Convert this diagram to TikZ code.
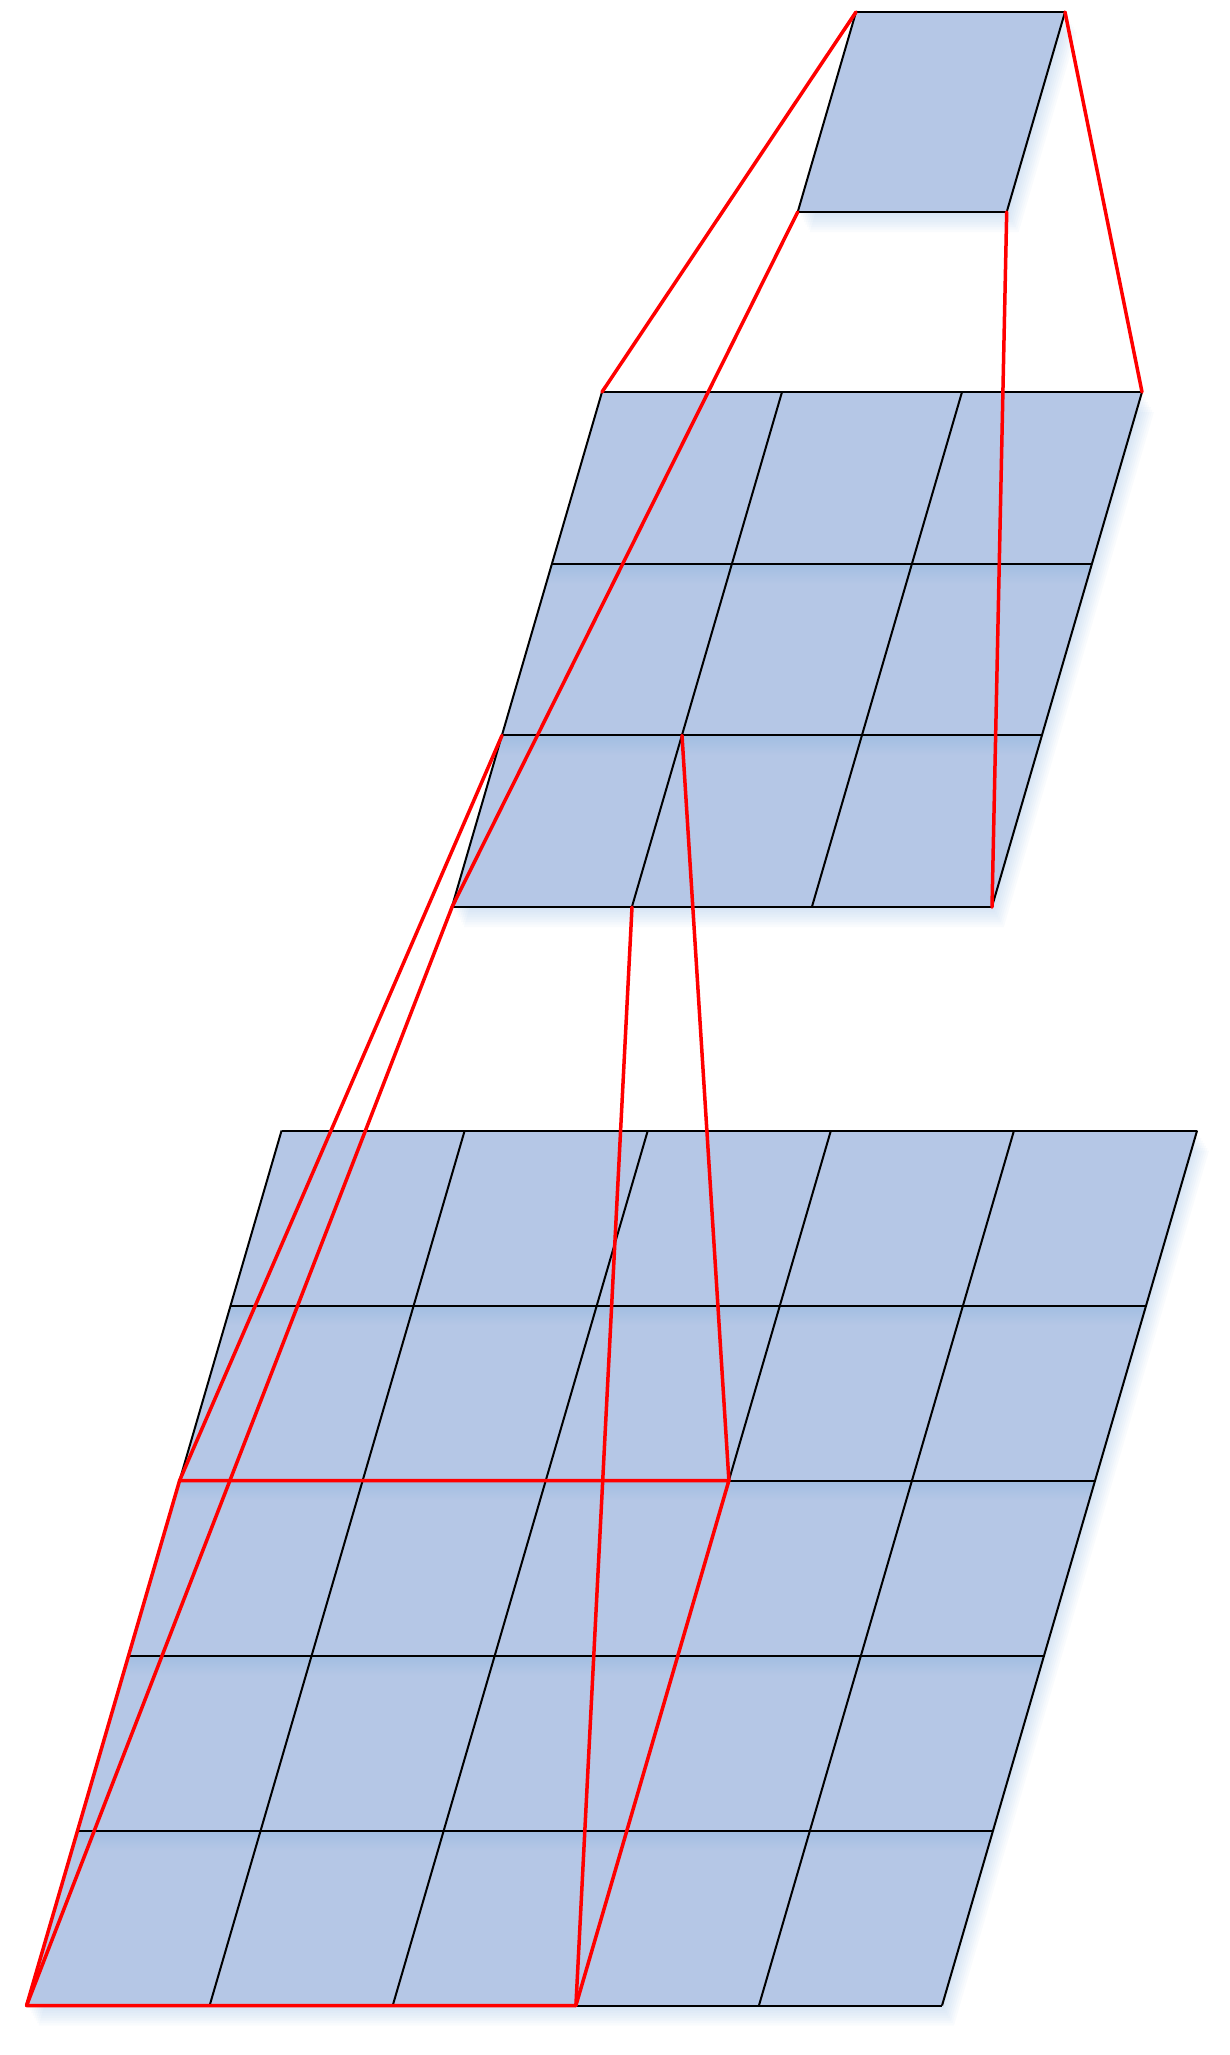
\documentclass[tikz,border=0pt]{standalone}
\usetikzlibrary{calc}
\definecolor{cellfill}{RGB}{181,199,230}
\definecolor{glow}{RGB}{140,180,225}
\definecolor{band}{RGB}{162,190,226}
\tikzset{
  gridline/.style={black, line width=1pt, line join=round},
  redline/.style={red, line width=1.75pt, line cap=round, line join=round}
}
% #1 x0, #2 y0, #3 cell w, #4 cell h, #5 cols, #6 rows
\newcommand{\mygrid}[6]{%
  \pgfmathsetmacro\gw{#3*#5}%
  \pgfmathsetmacro\gh{#4*#6}%
  \pgfmathsetmacro\gs{0.2915*\gh}%
  \foreach \k in {1,...,8}{%
    \fill[glow, opacity=0.05, shift={(1.5*\k,2.5*\k)}] (#1,#2) -- ++(\gw,0) -- ++(-\gs,\gh) -- ++(-\gw,0) -- cycle;
  }
  \fill[cellfill] (#1,#2) -- ++(\gw,0) -- ++(-\gs,\gh) -- ++(-\gw,0) -- cycle;
  \pgfmathtruncatemacro\rlast{#6-1}%
  \ifnum\rlast>0
    \foreach \r in {1,...,\rlast}{%
      \shade[top color=band, bottom color=cellfill] (#1-0.2915*#4*\r, #2+#4*\r) -- ++(\gw,0) -- ++(-5.83,20) -- ++(-\gw,0) -- cycle;
    }
  \fi
  \foreach \r in {0,...,#6}{%
    \draw[gridline] (#1-0.2915*#4*\r, #2+#4*\r) -- ++(\gw,0);
  }
  \foreach \c in {0,...,#5}{%
    \draw[gridline] (#1+#3*\c, #2) -- ++(-\gs,\gh);
  }
}
\begin{document}
\begin{tikzpicture}[x=0.5pt,y=-0.5pt]
\path[use as bounding box] (0,0) rectangle (1230,2055);

% grids
\mygrid{856}{12}{209}{200}{1}{1}
\mygrid{602}{392}{180}{171.7}{3}{3}
\mygrid{281.6}{1130.5}{183.1}{175}{5}{5}

% top patch corners
\coordinate (Ttl) at (856,12);
\coordinate (Ttr) at (1065,12);
\coordinate (Tbl) at (797.7,212);
\coordinate (Tbr) at (1006.7,212);

% middle grid corners
\coordinate (M00) at (602,392);
\coordinate (M30) at (1142,392);
\coordinate (M03) at (452,907.1);
\coordinate (M33) at (992,907.1);
\coordinate (M02) at (502,735.4);
\coordinate (M12) at (682,735.4);
\coordinate (M13) at (632,907.1);

% bottom grid corners of the 3x3 window
\coordinate (B02) at (179.6,1480.5);
\coordinate (B32) at (728.9,1480.5);
\coordinate (B05) at (26.6,2005.5);
\coordinate (B35) at (575.9,2005.5);

% red projection lines
\draw[redline] (Ttl) -- (M00);
\draw[redline] (Ttr) -- (M30);
\draw[redline] (Tbl) -- (M03);
\draw[redline] (Tbr) -- (M33);

\draw[redline] (M02) -- (B02);
\draw[redline] (M03) -- (B05);
\draw[redline] (M12) -- (B32);
\draw[redline] (M13) -- (B35);

\draw[redline] (B02) -- (B32) -- (B35) -- (B05) -- cycle;
\end{tikzpicture}
\end{document}
